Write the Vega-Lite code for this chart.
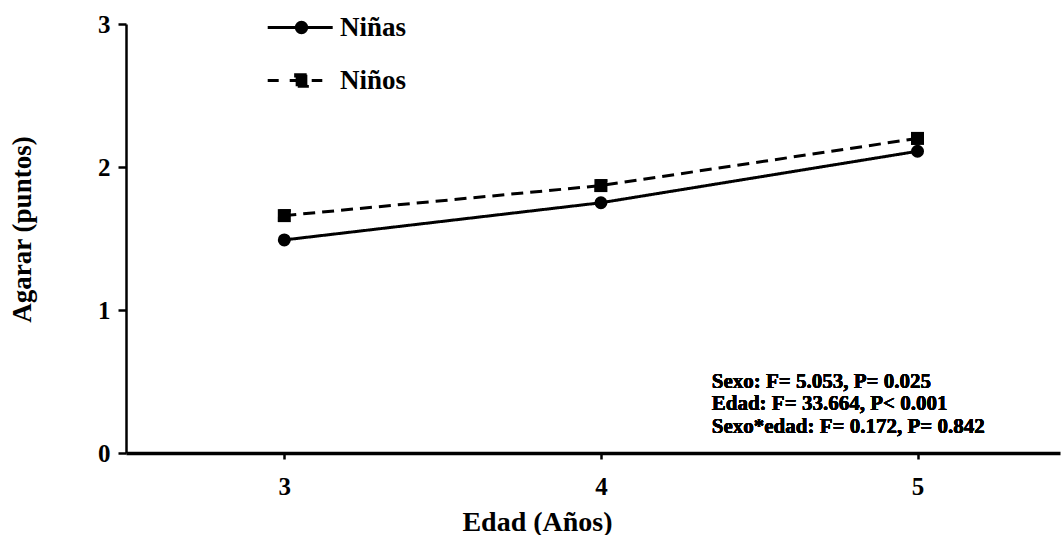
{
  "$schema": "https://vega.github.io/schema/vega-lite/v6.json",
  "width": 934,
  "height": 429,
  "autosize": {"type": "none"},
  "padding": {"left": 126, "top": 24, "right": 2, "bottom": 82},
  "background": "white",
  "config": {
    "view": {"stroke": null},
    "font": "Liberation Serif",
    "axis": {
      "grid": false,
      "labelFont": "Liberation Serif",
      "labelFontWeight": "bold",
      "labelColor": "black",
      "labelFontSize": 25,
      "labelFlush": false,
      "labelOverlap": false,
      "titleFont": "Liberation Serif",
      "titleFontWeight": "bold",
      "titleColor": "black",
      "titleFontSize": 27,
      "tickColor": "black",
      "domainColor": "black"
    },
    "legend": {
      "orient": "none",
      "legendX": 162,
      "title": null,
      "padding": 0,
      "labelFont": "Liberation Serif",
      "labelFontSize": 27,
      "labelFontWeight": "bold",
      "labelColor": "black",
      "labelOffset": 25,
      "symbolSize": 169,
      "symbolOpacity": 1,
      "symbolStrokeWidth": 3,
      "symbolStrokeColor": "black",
      "symbolFillColor": "black"
    }
  },
  "data": {
    "values": [
      {"edad": 3, "sexo": "Niñas", "agarar": 1.49},
      {"edad": 4, "sexo": "Niñas", "agarar": 1.75},
      {"edad": 5, "sexo": "Niñas", "agarar": 2.11},
      {"edad": 3, "sexo": "Niños", "agarar": 1.66},
      {"edad": 4, "sexo": "Niños", "agarar": 1.87},
      {"edad": 5, "sexo": "Niños", "agarar": 2.2}
    ]
  },
  "encoding": {
    "x": {
      "field": "edad",
      "type": "quantitative",
      "scale": {"domain": [2.5, 5.45], "nice": false, "zero": false},
      "axis": {
        "values": [3, 4, 5],
        "format": "d",
        "title": "Edad (Años)",
        "titleX": 411,
        "titleY": 69,
        "titleAlign": "center",
        "titleBaseline": "middle",
        "titleFontSize": 28,
        "tickSize": 6,
        "tickWidth": 2.5,
        "labelPadding": 15,
        "domainWidth": 3.5
      }
    },
    "y": {
      "field": "agarar",
      "type": "quantitative",
      "scale": {"domain": [0, 3], "nice": false},
      "axis": {
        "values": [0, 1, 2, 3],
        "format": "d",
        "title": "Agarar (puntos)",
        "titleAngle": -90,
        "titleX": -104,
        "titleY": 205,
        "titleAlign": "center",
        "titleBaseline": "middle",
        "tickSize": 8,
        "tickWidth": 2.5,
        "labelPadding": 8,
        "domainWidth": 2.5
      }
    }
  },
  "layer": [
    {
      "mark": {"type": "line", "color": "black", "strokeWidth": 3},
      "encoding": {
        "strokeDash": {
          "field": "sexo",
          "type": "nominal",
          "scale": {"range": [[1, 0], [12, 7]]},
          "legend": null
        }
      }
    },
    {
      "transform": [{"filter": "datum.sexo === 'Niñas'"}],
      "mark": {"type": "point", "shape": "circle", "filled": false, "fill": "black", "strokeWidth": 3, "opacity": 1, "size": 100},
      "encoding": {
        "color": {
          "field": "sexo",
          "type": "nominal",
          "scale": {"domain": ["Niñas"], "range": ["black"]},
          "legend": {
            "legendY": -10,
            "symbolType": "M-5.2,0H4.8M0.8,0A0.8,0.8 0 1,1 -0.8,0A0.8,0.8 0 1,1 0.8,0Z"
          }
        }
      }
    },
    {
      "transform": [{"filter": "datum.sexo === 'Niños'"}],
      "mark": {"type": "point", "shape": "square", "filled": false, "fill": "black", "strokeWidth": 3, "strokeDash": [11, 11], "opacity": 1, "size": 95},
      "encoding": {
        "color": {
          "field": "sexo",
          "type": "nominal",
          "scale": {"domain": ["Niños"], "range": ["black"]},
          "legend": {
            "legendY": 43,
            "symbolDash": [11, 11],
            "symbolType": "M-5.2,0H3.2M-0.9,-0.9H0.9V0.9H-0.9Z"
          }
        }
      }
    },
    {
      "transform": [{"filter": "datum.sexo === 'Niños'"}],
      "mark": {"type": "point", "shape": "square", "filled": true, "color": "black", "opacity": 1, "size": 169}
    },
    {
      "mark": {
        "type": "text",
        "text": ["Sexo: F= 5.053, P= 0.025", "Edad: F= 33.664, P< 0.001", "Sexo*edad: F= 0.172, P= 0.842"],
        "align": "left",
        "baseline": "middle",
        "font": "Liberation Serif",
        "fontWeight": "bold",
        "fontSize": 21,
        "lineHeight": 22.5,
        "color": "black"
      },
      "encoding": {
        "x": {"datum": 4.35},
        "y": {"datum": 0.497}
      }
    }
  ],
  "resolve": {
    "scale": {"color": "independent"},
    "legend": {"color": "independent"}
  }
}
